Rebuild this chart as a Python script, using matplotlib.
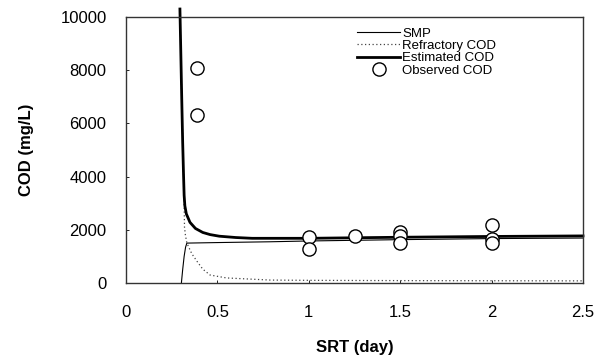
import numpy as np
import matplotlib
matplotlib.use("Agg")
import matplotlib.pyplot as plt

plt.rcParams['font.family'] = ['Liberation Sans', 'DejaVu Sans']

# model curves (SRT in day, COD in mg/L)
est_srt = [0.295, 0.300, 0.305, 0.310, 0.315, 0.318, 0.322, 0.330, 0.350, 0.380,
           0.420, 0.460, 0.510, 0.600, 0.690, 1.000, 1.250, 1.500, 2.000, 2.500]
est_cod = [10300, 8600, 6900, 5300, 4000, 3300, 2900, 2600, 2280, 2050,
           1900, 1820, 1760, 1710, 1680, 1680, 1700, 1720, 1750, 1770]

ref_srt = [0.295, 0.305, 0.315, 0.318, 0.320, 0.325, 0.333, 0.360, 0.390, 0.420,
           0.460, 0.550, 0.790, 1.000, 1.500, 2.000, 2.500]
ref_cod = [10300, 6900, 4000, 3000, 2100, 1800, 1500, 1100, 800, 520,
           300, 190, 110, 100, 90, 85, 80]

smp_srt = [0.303, 0.310, 0.318, 0.326, 0.333, 0.500, 0.790, 1.000, 1.500, 2.000, 2.500]
smp_cod = [0, 500, 1000, 1350, 1500, 1520, 1550, 1580, 1630, 1670, 1690]

# observed COD
obs_srt = [0.39, 0.39, 1.0, 1.0, 1.25, 1.5, 1.5, 1.5, 2.0, 2.0, 2.0]
obs_cod = [8100, 6330, 1720, 1270, 1760, 1900, 1750, 1520, 2170, 1650, 1500]

fig = plt.figure(figsize=(6.12, 3.63), dpi=100)
ax = fig.add_axes([126 / 612, 1 - 283 / 363, 457 / 612, 266 / 363])

ax.plot(smp_srt, smp_cod, color='black', lw=0.8, label='SMP')
ax.plot(ref_srt, ref_cod, color='#444444', lw=0.9, ls=(0, (1, 2)), label='Refractory COD')
ax.plot(est_srt, est_cod, color='black', lw=2.0, label='Estimated COD', clip_on=False)
ax.plot(obs_srt, obs_cod, ls='none', marker='o', ms=9.5, mfc='white', mec='black',
        mew=1.0, label='Observed COD')

ax.set_xlim(0, 2.5)
ax.set_ylim(0, 10000)
ax.set_xticks([0, 0.5, 1, 1.5, 2, 2.5])
ax.set_xticklabels(['0', '0.5', '1', '1.5', '2', '2.5'])
ax.set_yticks([0, 2000, 4000, 6000, 8000, 10000])
ax.tick_params(direction='in', length=2, width=0.6, labelsize=12)
ax.tick_params(axis='y', pad=14)
ax.tick_params(axis='x', pad=16)
for s in ax.spines.values():
    s.set_linewidth(1.0)
    s.set_color('#333333')

ax.set_xlabel('SRT (day)', fontsize=12, fontweight='bold', labelpad=14)
ax.set_ylabel('COD (mg/L)', fontsize=12, fontweight='bold', labelpad=19)

ax.legend(loc='upper left', bbox_to_anchor=(0.505, 0.96), frameon=False,
          fontsize=9.5, handlelength=3.3, handletextpad=0.15, labelspacing=0.0,
          borderpad=0, borderaxespad=0)

fig.savefig('out.png', dpi=100)
